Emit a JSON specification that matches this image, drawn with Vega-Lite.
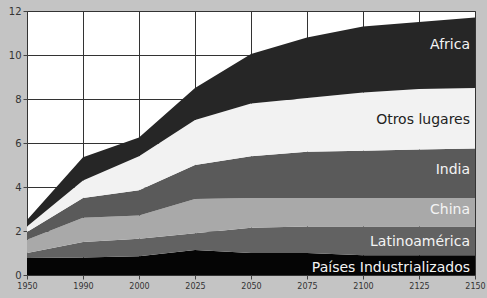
{
  "$schema": "https://vega.github.io/schema/vega-lite/v6.json",
  "width": 448,
  "height": 264,
  "autosize": "none",
  "padding": {"left": 27, "top": 11, "right": 12, "bottom": 23},
  "background": "#c4c4c4",
  "view": {"fill": "#ffffff", "stroke": "#555555", "strokeWidth": 1},
  "datasets": {
    "pop": [
      {"year": "1950", "region": "Países Industrializados", "o": 1, "v": 0.77},
      {"year": "1950", "region": "Latinoamérica", "o": 2, "v": 0.23},
      {"year": "1950", "region": "China", "o": 3, "v": 0.6},
      {"year": "1950", "region": "India", "o": 4, "v": 0.35},
      {"year": "1950", "region": "Otros lugares", "o": 5, "v": 0.25},
      {"year": "1950", "region": "Africa", "o": 6, "v": 0.3},
      {"year": "1990", "region": "Países Industrializados", "o": 1, "v": 0.8},
      {"year": "1990", "region": "Latinoamérica", "o": 2, "v": 0.7},
      {"year": "1990", "region": "China", "o": 3, "v": 1.1},
      {"year": "1990", "region": "India", "o": 4, "v": 0.9},
      {"year": "1990", "region": "Otros lugares", "o": 5, "v": 0.8},
      {"year": "1990", "region": "Africa", "o": 6, "v": 1.05},
      {"year": "2000", "region": "Países Industrializados", "o": 1, "v": 0.85},
      {"year": "2000", "region": "Latinoamérica", "o": 2, "v": 0.8},
      {"year": "2000", "region": "China", "o": 3, "v": 1.05},
      {"year": "2000", "region": "India", "o": 4, "v": 1.15},
      {"year": "2000", "region": "Otros lugares", "o": 5, "v": 1.55},
      {"year": "2000", "region": "Africa", "o": 6, "v": 0.85},
      {"year": "2025", "region": "Países Industrializados", "o": 1, "v": 1.14},
      {"year": "2025", "region": "Latinoamérica", "o": 2, "v": 0.76},
      {"year": "2025", "region": "China", "o": 3, "v": 1.55},
      {"year": "2025", "region": "India", "o": 4, "v": 1.55},
      {"year": "2025", "region": "Otros lugares", "o": 5, "v": 2.05},
      {"year": "2025", "region": "Africa", "o": 6, "v": 1.45},
      {"year": "2050", "region": "Países Industrializados", "o": 1, "v": 1.0},
      {"year": "2050", "region": "Latinoamérica", "o": 2, "v": 1.15},
      {"year": "2050", "region": "China", "o": 3, "v": 1.35},
      {"year": "2050", "region": "India", "o": 4, "v": 1.9},
      {"year": "2050", "region": "Otros lugares", "o": 5, "v": 2.4},
      {"year": "2050", "region": "Africa", "o": 6, "v": 2.25},
      {"year": "2075", "region": "Países Industrializados", "o": 1, "v": 1.0},
      {"year": "2075", "region": "Latinoamérica", "o": 2, "v": 1.2},
      {"year": "2075", "region": "China", "o": 3, "v": 1.3},
      {"year": "2075", "region": "India", "o": 4, "v": 2.1},
      {"year": "2075", "region": "Otros lugares", "o": 5, "v": 2.45},
      {"year": "2075", "region": "Africa", "o": 6, "v": 2.75},
      {"year": "2100", "region": "Países Industrializados", "o": 1, "v": 0.9},
      {"year": "2100", "region": "Latinoamérica", "o": 2, "v": 1.3},
      {"year": "2100", "region": "China", "o": 3, "v": 1.3},
      {"year": "2100", "region": "India", "o": 4, "v": 2.15},
      {"year": "2100", "region": "Otros lugares", "o": 5, "v": 2.65},
      {"year": "2100", "region": "Africa", "o": 6, "v": 3.0},
      {"year": "2125", "region": "Países Industrializados", "o": 1, "v": 0.9},
      {"year": "2125", "region": "Latinoamérica", "o": 2, "v": 1.3},
      {"year": "2125", "region": "China", "o": 3, "v": 1.3},
      {"year": "2125", "region": "India", "o": 4, "v": 2.2},
      {"year": "2125", "region": "Otros lugares", "o": 5, "v": 2.75},
      {"year": "2125", "region": "Africa", "o": 6, "v": 3.05},
      {"year": "2150", "region": "Países Industrializados", "o": 1, "v": 0.9},
      {"year": "2150", "region": "Latinoamérica", "o": 2, "v": 1.3},
      {"year": "2150", "region": "China", "o": 3, "v": 1.3},
      {"year": "2150", "region": "India", "o": 4, "v": 2.25},
      {"year": "2150", "region": "Otros lugares", "o": 5, "v": 2.75},
      {"year": "2150", "region": "Africa", "o": 6, "v": 3.2}
    ],
    "labels": [
      {"year": "2150", "label": "Africa", "y": 10.45, "tc": "w"},
      {"year": "2150", "label": "Otros lugares", "y": 7.05, "tc": "d"},
      {"year": "2150", "label": "India", "y": 4.77, "tc": "w"},
      {"year": "2150", "label": "China", "y": 2.95, "tc": "w"},
      {"year": "2150", "label": "Latinoamérica", "y": 1.5, "tc": "w"},
      {"year": "2150", "label": "Países Industrializados", "y": 0.32, "tc": "w"}
    ]
  },
  "config": {
    "font": "DejaVu Sans",
    "axis": {
      "gridColor": "#333333",
      "gridOpacity": 1,
      "gridWidth": 1,
      "domain": false,
      "tickColor": "#444444",
      "tickSize": 4,
      "labelColor": "#333333",
      "labelFontSize": 8,
      "title": null
    }
  },
  "layer": [
    {
      "data": {"name": "pop"},
      "mark": {"type": "area", "interpolate": "linear"},
      "encoding": {
        "x": {
          "field": "year",
          "type": "ordinal",
          "scale": {"type": "point", "padding": 0},
          "axis": {"labelAngle": 0, "labelPadding": 3, "grid": true}
        },
        "y": {
          "field": "v",
          "type": "quantitative",
          "stack": "zero",
          "scale": {"domain": [0, 12], "nice": false},
          "axis": {"values": [0, 2, 4, 6, 8, 10, 12], "grid": true, "labelPadding": 2, "labelFontSize": 10}
        },
        "color": {
          "field": "region",
          "type": "nominal",
          "scale": {
            "domain": ["Países Industrializados", "Latinoamérica", "China", "India", "Otros lugares", "Africa"],
            "range": ["#050505", "#626262", "#a9a9a9", "#5a5a5a", "#f2f2f2", "#262626"]
          },
          "legend": null
        },
        "order": {"field": "o", "type": "quantitative"}
      }
    },
    {
      "data": {"name": "labels"},
      "mark": {"type": "text", "align": "right", "baseline": "middle", "dx": -5, "fontSize": 14, "font": "DejaVu Sans"},
      "encoding": {
        "x": {"field": "year", "type": "ordinal", "scale": {"type": "point", "padding": 0}},
        "y": {"field": "y", "type": "quantitative"},
        "text": {"field": "label"},
        "color": {
          "field": "tc",
          "type": "nominal",
          "scale": {"domain": ["w", "d"], "range": ["#f4f4f4", "#222222"]},
          "legend": null
        }
      }
    }
  ],
  "resolve": {"scale": {"color": "independent"}}
}
